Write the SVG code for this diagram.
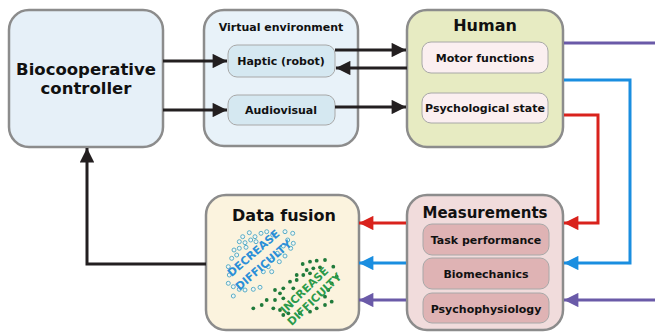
<svg xmlns="http://www.w3.org/2000/svg" width="655" height="332" viewBox="0 0 655 332">
<defs>
<style>
text{font-family:"DejaVu Sans","Verdana",sans-serif;font-weight:bold;fill:#111;text-anchor:middle}
.box{stroke:#8c8c8c;stroke-width:2.5}
.inner{stroke:#a8a8a8;stroke-width:1}
.t11{font-size:11px}
.blk{stroke:#231f20;stroke-width:3;fill:none}
.red{stroke:#d9221c;stroke-width:3;fill:none}
.blu{stroke:#1a8ee0;stroke-width:3;fill:none}
.pur{stroke:#6a5aa8;stroke-width:3;fill:none}
.od{fill:#f2f6f2;stroke:#5aaec8;stroke-width:1}
.gd{fill:#1f7a3a}
</style>
<marker id="ak" viewBox="0 0 10 10" refX="10" refY="5" markerWidth="5.8" markerHeight="4.8" orient="auto" markerUnits="strokeWidth"><path d="M0,0 L10,5 L0,10 z" fill="#231f20"/></marker>
<marker id="ar" viewBox="0 0 10 10" refX="10" refY="5" markerWidth="5.8" markerHeight="4.8" orient="auto" markerUnits="strokeWidth"><path d="M0,0 L10,5 L0,10 z" fill="#d9221c"/></marker>
<marker id="ab" viewBox="0 0 10 10" refX="10" refY="5" markerWidth="5.8" markerHeight="4.8" orient="auto" markerUnits="strokeWidth"><path d="M0,0 L10,5 L0,10 z" fill="#1a8ee0"/></marker>
<marker id="ap" viewBox="0 0 10 10" refX="10" refY="5" markerWidth="5.8" markerHeight="4.8" orient="auto" markerUnits="strokeWidth"><path d="M0,0 L10,5 L0,10 z" fill="#6a5aa8"/></marker>
</defs>
<rect width="655" height="332" fill="#ffffff"/>

<g id="biocooperative-controller">
<rect class="box" x="9" y="10" width="154" height="137" rx="20" fill="#e6f0f8"/>
<text x="86" y="75" font-size="16.5">Biocooperative</text>
<text x="86" y="94" font-size="16.5">controller</text>
</g>

<g id="virtual-environment">
<rect class="box" x="204" y="10" width="154" height="136" rx="20" fill="#e8f2f9"/>
<text x="281" y="31" class="t11">Virtual environment</text>
<g id="haptic">
<rect class="inner" x="228" y="45" width="107" height="32" rx="9" fill="#d5e8f1"/>
<text x="281" y="65" class="t11">Haptic (robot)</text>
</g>
<g id="audiovisual">
<rect class="inner" x="228" y="95" width="107" height="30" rx="9" fill="#d5e8f1"/>
<text x="281" y="114" class="t11">Audiovisual</text>
</g>
</g>

<g id="human">
<rect class="box" x="407" y="10" width="156" height="137" rx="20" fill="#e7ebc2"/>
<text x="485" y="31" font-size="16">Human</text>
<g id="motor-functions">
<rect class="inner" x="422" y="42" width="126" height="31" rx="9" fill="#fbeff0"/>
<text x="485" y="62" class="t11">Motor functions</text>
</g>
<g id="psychological-state">
<rect class="inner" x="422" y="93" width="126" height="30" rx="9" fill="#fbeff0"/>
<text x="485" y="112" class="t11">Psychological state</text>
</g>
</g>

<g id="measurements">
<rect class="box" x="407" y="195" width="156" height="135" rx="20" fill="#f1dcdc"/>
<text x="485" y="218" font-size="15">Measurements</text>
<g id="task-performance">
<rect class="inner" x="423" y="224" width="126" height="31" rx="9" fill="#dfb3b4"/>
<text x="486" y="244" class="t11">Task performance</text>
</g>
<g id="biomechanics">
<rect class="inner" x="423" y="258" width="126" height="31" rx="9" fill="#dfb3b4"/>
<text x="486" y="278" class="t11">Biomechanics</text>
</g>
<g id="psychophysiology">
<rect class="inner" x="423" y="293" width="126" height="30" rx="9" fill="#dfb3b4"/>
<text x="486" y="313" class="t11">Psychophysiology</text>
</g>
</g>

<g id="data-fusion">
<rect class="box" x="206" y="195" width="153" height="135" rx="20" fill="#fbf3de"/>
<text x="284" y="221" font-size="16">Data fusion</text>
<g id="decrease-dots">
<circle class="od" cx="242.7" cy="236.7" r="2"/><circle class="od" cx="249.3" cy="232.7" r="2"/><circle class="od" cx="255" cy="236.7" r="2"/><circle class="od" cx="261" cy="233.3" r="2"/><circle class="od" cx="266.7" cy="231.7" r="2"/><circle class="od" cx="272.7" cy="235" r="2"/><circle class="od" cx="285" cy="231.7" r="2"/><circle class="od" cx="292.7" cy="233.3" r="2"/><circle class="od" cx="239.3" cy="241.7" r="2"/><circle class="od" cx="245" cy="242.7" r="2"/><circle class="od" cx="250.7" cy="240" r="2"/><circle class="od" cx="256" cy="241.7" r="2"/><circle class="od" cx="287.7" cy="240" r="2"/><circle class="od" cx="293.3" cy="243.3" r="2"/><circle class="od" cx="234" cy="250" r="2"/><circle class="od" cx="239.3" cy="248.3" r="2"/><circle class="od" cx="246" cy="247.3" r="2"/><circle class="od" cx="283.3" cy="246" r="2"/><circle class="od" cx="290.7" cy="248.3" r="2"/><circle class="od" cx="231.7" cy="258.3" r="2"/><circle class="od" cx="236.7" cy="255" r="2"/><circle class="od" cx="277.3" cy="253.3" r="2"/><circle class="od" cx="285" cy="256" r="2"/><circle class="od" cx="228.3" cy="266.7" r="2"/><circle class="od" cx="271.7" cy="260" r="2"/><circle class="od" cx="279.3" cy="261.7" r="2"/><circle class="od" cx="268.3" cy="266.7" r="2"/><circle class="od" cx="229.3" cy="275" r="2"/><circle class="od" cx="263.3" cy="271.7" r="2"/><circle class="od" cx="271.7" cy="271.7" r="2"/><circle class="od" cx="228.3" cy="283.3" r="2"/><circle class="od" cx="233.3" cy="286.7" r="2"/><circle class="od" cx="239.3" cy="289.3" r="2"/><circle class="od" cx="245" cy="290" r="2"/><circle class="od" cx="253.3" cy="289.3" r="2"/><circle class="od" cx="260" cy="287.3" r="2"/><circle class="od" cx="233.3" cy="296" r="2"/>
</g>
<g id="increase-dots">
<circle class="gd" cx="302.7" cy="264" r="1.9"/><circle class="gd" cx="310" cy="261.7" r="1.9"/><circle class="gd" cx="316.7" cy="260.7" r="1.9"/><circle class="gd" cx="325" cy="260" r="1.9"/><circle class="gd" cx="306.7" cy="270" r="1.9"/><circle class="gd" cx="313.3" cy="268.3" r="1.9"/><circle class="gd" cx="320" cy="267.3" r="1.9"/><circle class="gd" cx="333.3" cy="266.7" r="1.9"/><circle class="gd" cx="296.7" cy="275" r="1.9"/><circle class="gd" cx="303.3" cy="275" r="1.9"/><circle class="gd" cx="310" cy="273.3" r="1.9"/><circle class="gd" cx="336.7" cy="276.7" r="1.9"/><circle class="gd" cx="290" cy="281.7" r="1.9"/><circle class="gd" cx="296.7" cy="280" r="1.9"/><circle class="gd" cx="331.7" cy="283.3" r="1.9"/><circle class="gd" cx="283.3" cy="288.3" r="1.9"/><circle class="gd" cx="293.3" cy="288.3" r="1.9"/><circle class="gd" cx="275" cy="290" r="1.9"/><circle class="gd" cx="280" cy="293.3" r="1.9"/><circle class="gd" cx="328.3" cy="290" r="1.9"/><circle class="gd" cx="266.7" cy="300" r="1.9"/><circle class="gd" cx="275" cy="300" r="1.9"/><circle class="gd" cx="283.3" cy="298.3" r="1.9"/><circle class="gd" cx="325" cy="296.7" r="1.9"/><circle class="gd" cx="253.3" cy="308.3" r="1.9"/><circle class="gd" cx="261.7" cy="305" r="1.9"/><circle class="gd" cx="273.3" cy="308.3" r="1.9"/><circle class="gd" cx="280" cy="310" r="1.9"/><circle class="gd" cx="283.3" cy="315" r="1.9"/><circle class="gd" cx="288.3" cy="313.3" r="1.9"/><circle class="gd" cx="310" cy="311.7" r="1.9"/><circle class="gd" cx="316.7" cy="308.3" r="1.9"/><circle class="gd" cx="325" cy="305" r="1.9"/><circle class="gd" cx="331.7" cy="301.7" r="1.9"/><circle class="gd" cx="300" cy="313.3" r="1.9"/>
</g>
<text transform="translate(256,256) rotate(-41)" font-size="11" style="fill:#2b8fd8">DECREASE</text>
<text transform="translate(266,268) rotate(-41)" font-size="11" style="fill:#2b8fd8">DIFFICULTY</text>
<text transform="translate(307,293) rotate(-44)" font-size="11" style="fill:#2a9a4a">INCREASE</text>
<text transform="translate(317,302) rotate(-44)" font-size="11" style="fill:#2a9a4a">DIFFICULTY</text>
</g>

<g id="connectors">
<line class="blk" x1="163" y1="61" x2="227" y2="61" marker-end="url(#ak)"/>
<line class="blk" x1="163" y1="110" x2="227" y2="110" marker-end="url(#ak)"/>
<line class="blk" x1="335" y1="50" x2="406" y2="50" marker-end="url(#ak)"/>
<line class="blk" x1="407" y1="68" x2="336" y2="68" marker-end="url(#ak)"/>
<line class="blk" x1="335" y1="107" x2="406" y2="107" marker-end="url(#ak)"/>
<polyline class="blk" points="206,264 87,264 87,148" marker-end="url(#ak)"/>
<polyline class="pur" points="564,43 655,43"/>
<polyline class="blu" points="564,80 630,80 630,263 564,263" marker-end="url(#ab)"/>
<polyline class="red" points="564,115 598,115 598,223 564,223" marker-end="url(#ar)"/>
<line class="pur" x1="655" y1="300" x2="564" y2="300" marker-end="url(#ap)"/>
<line class="red" x1="406" y1="223" x2="359" y2="223" marker-end="url(#ar)"/>
<line class="blu" x1="406" y1="263" x2="359" y2="263" marker-end="url(#ab)"/>
<line class="pur" x1="406" y1="300" x2="359" y2="300" marker-end="url(#ap)"/>
</g>
</svg>
